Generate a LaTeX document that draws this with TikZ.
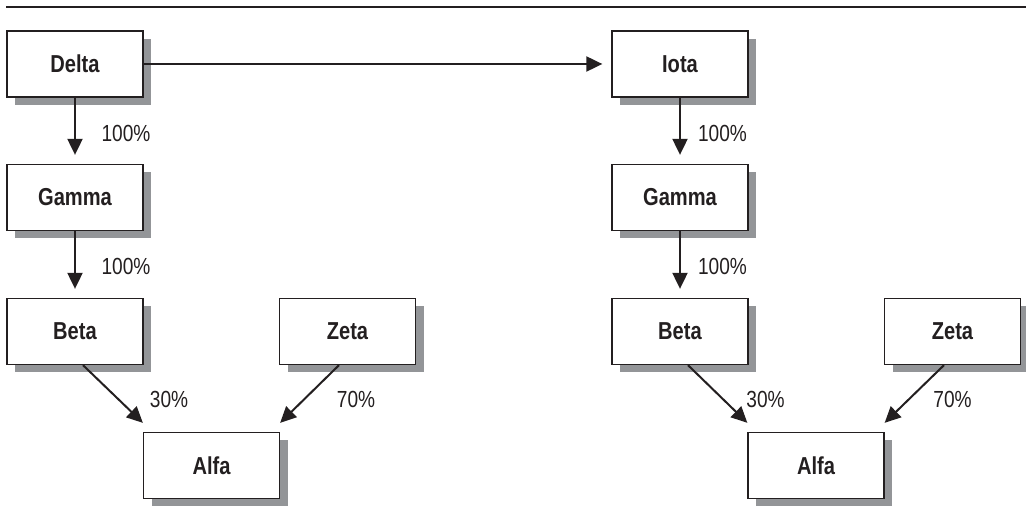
\documentclass[tikz,border=0pt]{standalone}
\usepackage{fontspec}
\setmainfont{Liberation Sans}[FakeStretch=0.82]
\usetikzlibrary{arrows.meta,shadows}
\definecolor{shadowgray}{HTML}{939598}
\definecolor{inkblack}{HTML}{231F20}

\begin{document}
\begin{tikzpicture}[x=1pt,y=-1pt,
	box/.style={draw=inkblack, line width=1.3pt, fill=white, minimum width=136pt, minimum height=66pt,
		inner sep=0pt, font=\fontsize{24.5}{28}\selectfont\bfseries, text=inkblack,
		drop shadow={shadow xshift=8pt, shadow yshift=-8pt, fill=shadowgray, opacity=1}},
	share/.style={font=\fontsize{23.3}{27}\selectfont, text=inkblack, inner sep=0pt},
	link/.style={draw=inkblack, line width=2pt, -{Triangle[length=16pt,width=15pt]}}]

		\useasboundingbox (0,0) rectangle (1026,526);
		\draw[inkblack, line width=1.5pt] (6,7) -- (1026,7);

			% left tree
			\node[box] (r1c1) at (75,64)      {Delta};
			\node[box] (r2c1) at (75,197.5)   {Gamma};
			\node[box] (r3c1) at (75,331.5)   {Beta};
			\node[box] (r3c2) at (347.5,331.5) {Zeta};
			\node[box] (r4c1) at (211.5,465.5) {Alfa};

			% right tree
			\node[box] (r1c3) at (680,64)      {Iota};
			\node[box] (r2c3) at (680,197.5)   {Gamma};
			\node[box] (r3c3) at (680,331.5)   {Beta};
			\node[box] (r3c4) at (952.5,331.5) {Zeta};
			\node[box] (r4c2) at (816,465.5)   {Alfa};

			\node[share] (s1) at (126,133)   {100\%};
			\node[share] (s2) at (126,266)   {100\%};
			\node[share] (s3) at (169,399)   {30\%};
			\node[share] (s4) at (356,399)   {70\%};
			\node[share] (s5) at (722.5,133) {100\%};
			\node[share] (s6) at (722.5,266) {100\%};
			\node[share] (s7) at (765.5,399) {30\%};
			\node[share] (s8) at (952.5,399) {70\%};

		\draw[link, shorten >=9pt] (r1c1) -- (r1c3);
		\draw[link, shorten >=9pt] (r1c1) -- (r2c1);
		\draw[link, shorten >=9pt] (r2c1) -- (r3c1);
		\draw[link] ([xshift=8pt]r3c1.south) -- ([yshift=9pt]r4c1.north west);
		\draw[link] ([xshift=-8.5pt]r3c2.south) -- ([yshift=9pt]r4c1.north east);
		\draw[link, shorten >=9pt] (r1c3) -- (r2c3);
		\draw[link, shorten >=9pt] (r2c3) -- (r3c3);
		\draw[link] ([xshift=8pt]r3c3.south) -- ([yshift=9pt]r4c2.north west);
		\draw[link] ([xshift=-8.5pt]r3c4.south) -- ([yshift=9pt]r4c2.north east);

		\end{tikzpicture}
\end{document}
